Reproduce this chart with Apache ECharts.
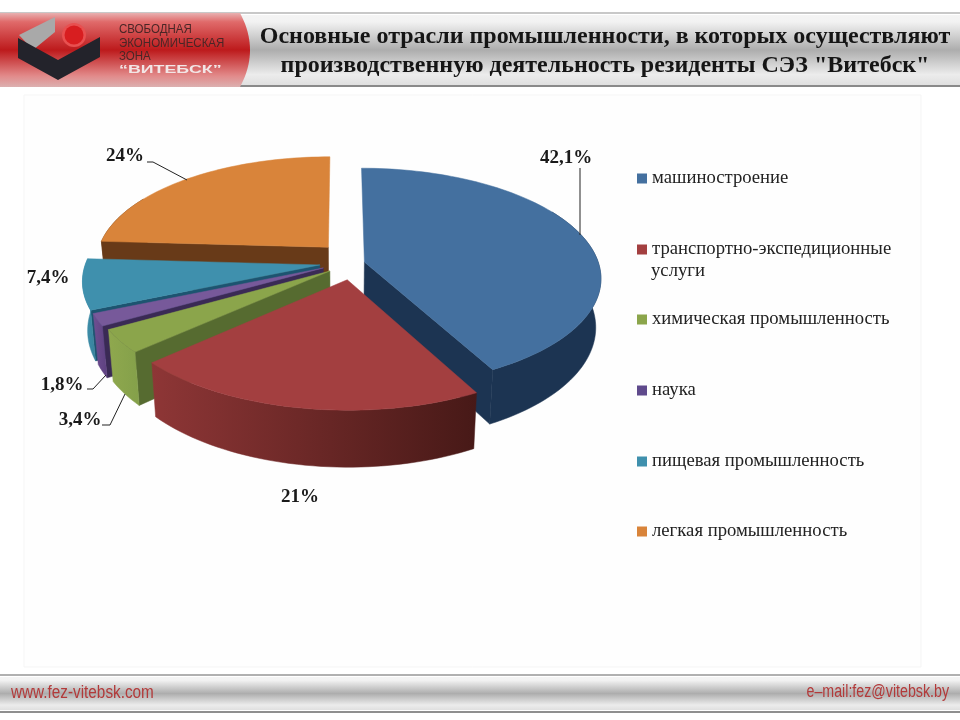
<!DOCTYPE html>
<html><head><meta charset="utf-8">
<style>html,body{margin:0;padding:0;background:#fff}#c{width:960px;height:720px}</style>
<script src="https://cdn.jsdelivr.net/npm/echarts@6/dist/echarts.min.js"></script>
</head><body><div id="c"></div>
<script>
// ---- data ----
const categories = ['машиностроение','транспортно-экспедиционные услуги','химическая промышленность','наука','пищевая промышленность','легкая промышленность'];
const shares = [42.1, 21, 3.4, 1.8, 7.4, 24];
const titleLines = ['Основные отрасли промышленности, в которых осуществляют','производственную деятельность резиденты СЭЗ "Витебск"'];

// ---- style / layout ----
const topColors  = ['#44709f','#a33f40','#8ba54b','#77599a','#3f90ad','#d9843a'];
const legendColors = ['#44709f','#a33f40','#8ba54b','#5f4a8c','#3f90ad','#d9843a'];
const wallColors = ['#1c3452','#5a2020','#566b30','#3a2a55','#1d5470','#683a18'];
const rimColors  = [['#1c3452','#1c3452'],['#8e3636','#471917'],['#8fa84e','#84a04a'],['#6f4f92','#5d4080'],['#3f92ae','#38829c'],['#683a18','#683a18']];
const explodeX = [0.1, 0.026, -0.047, -0.075, -0.09, -0.055];
const explodeY = [-0.037, 0.125, 0.046, 0.018, -0.01, -0.178];
const paintOrder = [2, 6, 5, 4, 3, 1];
const pie = {cx:341, cy:266, rx:235, ry:108, persp:0.14, depth:48, shrink:0.98};
const labelPos = [[566,158],[300,497],[80,420],[62,385],[48,278],[125,156]];
const leaders = [[[580,168],[580,235]],null,[[102,425],[110,425],[125,394]],[[87,389],[93,389],[106,375]],null,[[147,162],[153,162],[187,180]]];
const legendCenters = [178,249,319,390,461,531];

const total = shares.reduce((a,b)=>a+b,0);
const RIM_FROM = Math.PI/3, RIM_TO = Math.PI*5/3;
function startAngle(i){let s=0;for(let k=0;k<i;k++)s+=shares[k];return s/total*Math.PI*2;}
function proj(X,Y,bottom){
  const s=1/(1-pie.persp*Y);
  let x=pie.cx+pie.rx*X*s, y=pie.cy+pie.ry*Y*s;
  if(bottom){x=pie.cx+(x-pie.cx)*pie.shrink;y+=pie.depth*s;}
  return [x,y];
}
function arcPts(i,a,b,bottom){
  const n=Math.max(4,Math.ceil((b-a)/0.03)),pts=[];
  for(let k=0;k<=n;k++){const t=a+(b-a)*k/n;pts.push(proj(explodeX[i]+Math.sin(t),explodeY[i]-Math.cos(t),bottom));}
  return pts;
}
function fmt(v){return String(v).replace('.',',')+'%';}
function renderSlice(i){
  return function(params,api){
    const v=api.value(0);
    const a=startAngle(i), b=a+v/total*Math.PI*2;
    const base=paintOrder[i]*10;
    const apexT=proj(explodeX[i],explodeY[i],false), apexB=proj(explodeX[i],explodeY[i],true);
    const topArc=arcPts(i,a,b,false);
    const poly=(points,fill,z)=>({type:'polygon',shape:{points},z2:base+z,style:{fill,stroke:fill,lineWidth:0.5}});
    const children=[];
    // only the cut faces that turn towards the viewer are drawn
    if(Math.sin(a)<-1e-6){const bot=arcPts(i,a,b,true);children.push(poly([apexT,topArc[0],bot[0],apexB],wallColors[i],0));}
    if(Math.sin(b)>1e-6){const bot=arcPts(i,a,b,true);children.push(poly([apexT,topArc[topArc.length-1],bot[bot.length-1],apexB],wallColors[i],1));}
    const ra=Math.max(a,RIM_FROM), rb=Math.min(b,RIM_TO);
    if(rb>ra){
      const rimT=arcPts(i,ra,rb,false), rimB=arcPts(i,ra,rb,true);
      children.push(poly(rimT.concat(rimB.slice().reverse()),{type:'linear',x:0,y:0,x2:1,y2:0,colorStops:[{offset:0,color:rimColors[i][0]},{offset:1,color:rimColors[i][1]}]},2));
    }
    children.push(poly([apexT].concat(topArc),topColors[i],3));
    children.push({type:'text',z2:200,style:{x:labelPos[i][0],y:labelPos[i][1],text:fmt(v),fill:'#1a1a1a',font:'bold 19px "Liberation Serif"',align:'center',verticalAlign:'middle'}});
    if(leaders[i])children.push({type:'polyline',z2:190,shape:{points:leaders[i]},style:{fill:'none',stroke:'#222',lineWidth:1}});
    return {type:'group',children};
  };
}
const series=categories.map((name,i)=>({
  type:'custom',name,coordinateSystem:'none',data:[[shares[i]]],
  itemStyle:{color:legendColors[i]},renderItem:renderSlice(i),silent:true
}));
const legend=categories.map((name,i)=>({
  data:[name],left:637,top:legendCenters[i]-9,padding:0,orient:'vertical',icon:'rect',itemWidth:10,itemHeight:10,
  selectedMode:false,
  textStyle:{fontFamily:'Liberation Serif',fontSize:18.7,color:'#222'},
  formatter:n=>n==='транспортно-экспедиционные услуги'?'транспортно-экспедиционные':n
}));
const bandStops=[{offset:0,color:'#f4f4f4'},{offset:0.1,color:'#f2f2f2'},{offset:0.5,color:'#adadad'},{offset:0.85,color:'#ececec'},{offset:1,color:'#e0e0e0'}];
const redStops=[{offset:0,color:'#e8b0b0'},{offset:0.12,color:'#e06a6a'},{offset:0.5,color:'#bd1a1c'},{offset:0.85,color:'#e28a8a'},{offset:1,color:'#dcb0b0'}];
const redShape=[[0,13],[240,13]];
for(let k=1;k<20;k++){const t=k/20;redShape.push([240+2*t*(1-t)*20,13+74*t]);}
redShape.push([240,87],[0,87]);
const graphic=[
  {type:'rect',z:0,shape:{x:24,y:95,width:897,height:572},style:{fill:'#fefefe',stroke:'#f5f5f5',lineWidth:1}},
  {type:'rect',z:0,shape:{x:0,y:15,width:960,height:70},style:{fill:{type:'linear',x:0,y:0,x2:0,y2:1,colorStops:bandStops}}},
  {type:'rect',z:0,shape:{x:0,y:12,width:960,height:2},style:{fill:'#c8c8c8'}},
  {type:'rect',z:0,shape:{x:0,y:85,width:960,height:2},style:{fill:'#8a8a8a'}},
  {type:'polygon',z:1,shape:{points:redShape},style:{fill:{type:'linear',x:0,y:0,x2:0,y2:1,colorStops:redStops}}},
  {type:'polygon',z:2,shape:{points:[[19,35],[55,17],[55,32],[33,50]]},style:{fill:'#a9a9a9'}},
  {type:'polygon',z:2,shape:{points:[[18,38],[58,60],[100,37],[100,57],[58,80],[18,58]]},style:{fill:'#23232b'}},
  {type:'circle',z:2,shape:{cx:74,cy:35,r:12},style:{fill:'#e85050'}},
  {type:'circle',z:2,shape:{cx:74,cy:35,r:9.5},style:{fill:'#d81e20'}},
  {type:'text',z:3,x:119,y:30,scaleX:0.96,style:{text:'СВОБОДНАЯ',fill:'#4a2626',font:'12px "Liberation Sans"',verticalAlign:'middle'}},
  {type:'text',z:3,x:119,y:44,scaleX:0.96,style:{text:'ЭКОНОМИЧЕСКАЯ',fill:'#4a2626',font:'12px "Liberation Sans"',verticalAlign:'middle'}},
  {type:'text',z:3,x:119,y:57,scaleX:0.96,style:{text:'ЗОНА',fill:'#4a2626',font:'12px "Liberation Sans"',verticalAlign:'middle'}},
  {type:'text',z:3,x:119,y:70,scaleX:1.62,style:{text:'“ВИТЕБСК”',fill:'#f2e6e6',font:'bold 11px "Liberation Sans"',verticalAlign:'middle'}},
  {type:'text',z:5,x:605,y:37,style:{text:titleLines[0],fill:'#151515',font:'bold 24px "Liberation Serif"',align:'center',verticalAlign:'middle'}},
  {type:'text',z:5,x:605,y:66,style:{text:titleLines[1],fill:'#151515',font:'bold 24px "Liberation Serif"',align:'center',verticalAlign:'middle'}},
  {type:'text',z:5,x:651,y:271,style:{text:'услуги',fill:'#222',font:'18.7px "Liberation Serif"',verticalAlign:'middle'}},
  {type:'rect',z:0,shape:{x:0,y:677,width:960,height:33},style:{fill:{type:'linear',x:0,y:0,x2:0,y2:1,colorStops:bandStops}}},
  {type:'rect',z:0,shape:{x:0,y:674,width:960,height:2},style:{fill:'#b0b0b0'}},
  {type:'rect',z:0,shape:{x:0,y:711,width:960,height:2},style:{fill:'#8f8f8f'}},
  {type:'text',z:5,x:11,y:693,scaleX:0.85,style:{text:'www.fez-vitebsk.com',fill:'#b23a3a',font:'18px "Liberation Sans"',verticalAlign:'middle'}},
  {type:'text',z:5,x:949,y:692,scaleX:0.79,style:{text:'e–mail:fez@vitebsk.by',fill:'#b23a3a',font:'18px "Liberation Sans"',align:'right',verticalAlign:'middle'}}
];
const chart=echarts.init(document.getElementById('c'),null,{renderer:'canvas'});
chart.setOption({animation:false,backgroundColor:'#fff',legend,graphic,series});
</script></body></html>
